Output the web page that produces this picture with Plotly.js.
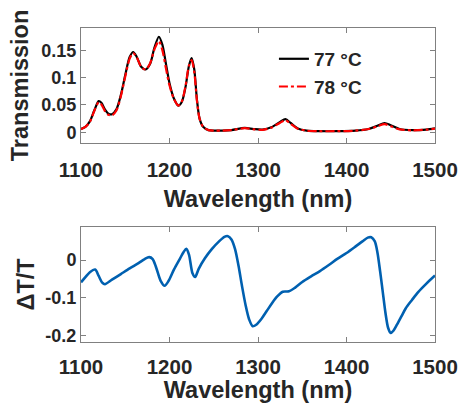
<!DOCTYPE html>
<html><head><meta charset="utf-8">
<script src="https://cdn.plot.ly/plotly-3.0.1.min.js"></script>
<style>html,body{margin:0;padding:0;background:#fff}#plot{width:461px;height:403px}</style>
</head><body><div id="plot"></div>
<script>
// Top panel: transmission spectra
const wlT = [1100,1105,1110,1115,1120,1123,1127,1131,1135,1140,1145,1150,1155,1159,1163,1168,1173,1178,1183,1188,1192,1196,1200,1205,1210,1214,1218,1222,1225,1228,1231,1234,1238,1244,1250,1260,1270,1285,1295,1305,1315,1325,1331,1337,1345,1355,1370,1390,1410,1425,1435,1443,1450,1460,1475,1490,1500];
const t77 = [0.006,0.010,0.020,0.040,0.057,0.054,0.042,0.034,0.033,0.042,0.068,0.105,0.138,0.147,0.138,0.120,0.115,0.125,0.155,0.175,0.160,0.125,0.090,0.062,0.049,0.056,0.082,0.122,0.136,0.115,0.060,0.025,0.010,0.004,0.003,0.003,0.004,0.008,0.006,0.005,0.009,0.019,0.024,0.017,0.007,0.003,0.002,0.002,0.003,0.006,0.012,0.017,0.013,0.006,0.004,0.005,0.007];
const t78 = [0.0056,0.0097,0.019,0.039,0.055,0.051,0.039,0.032,0.031,0.040,0.066,0.102,0.135,0.145,0.137,0.120,0.115,0.126,0.152,0.167,0.150,0.117,0.086,0.061,0.049,0.057,0.084,0.122,0.132,0.110,0.058,0.025,0.010,0.004,0.003,0.003,0.004,0.0075,0.0055,0.0045,0.0085,0.0175,0.022,0.0155,0.0065,0.003,0.002,0.002,0.003,0.006,0.011,0.0148,0.011,0.0052,0.0036,0.0047,0.0067];
const legendNames = ['77 °C','78 °C'];
// Bottom panel: relative change
const wlD = [1100,1105,1110,1116,1120,1124,1127,1135,1145,1155,1165,1172,1177,1181,1185,1190,1194.5,1199,1205,1212,1216,1219,1222,1226,1229,1233,1240,1248,1256,1262,1266,1270,1274,1278,1282,1286,1290,1294,1298,1304,1310,1316,1322,1328,1335,1342,1350,1360,1370,1380,1390,1400,1410,1418,1424,1428,1432,1435,1438,1441,1444,1447,1450,1453,1457,1462,1467,1474,1481,1490,1500];
const dTT = [-0.059,-0.045,-0.032,-0.025,-0.042,-0.060,-0.064,-0.052,-0.037,-0.022,-0.008,0.003,0.008,0.003,-0.020,-0.055,-0.068,-0.055,-0.025,0.005,0.022,0.030,0.015,-0.035,-0.045,-0.023,0.005,0.030,0.050,0.062,0.064,0.055,0.030,-0.015,-0.070,-0.120,-0.158,-0.176,-0.172,-0.156,-0.135,-0.114,-0.096,-0.084,-0.083,-0.073,-0.058,-0.043,-0.029,-0.013,0.004,0.019,0.036,0.050,0.060,0.061,0.050,0.020,-0.030,-0.085,-0.140,-0.180,-0.194,-0.188,-0.172,-0.150,-0.128,-0.106,-0.085,-0.063,-0.041];
const xTicks = [1100,1200,1300,1400,1500];
const yTopTicks = [0,0.05,0.1,0.15];
const yBotTicks = [-0.2,-0.1,0];

const FONT = 'Arial, "Liberation Sans", sans-serif';
const tickFontX = {family: FONT, size: 20.5, color: '#262626', weight: 'bold'};
const tickFontY = {family: FONT, size: 18, color: '#262626', weight: 'bold'};
const titleFont = {family: FONT, size: 23.5, color: '#262626', weight: 'bold'};
const axisCommon = {showline: true, linecolor: '#808080', linewidth: 1, mirror: 'ticks', ticks: 'inside', ticklen: 5, tickcolor: '#808080', showgrid: false, zeroline: false, automargin: false};

const traces = [
  {x: wlT, y: t77, name: legendNames[0], type: 'scatter', mode: 'lines', line: {color: '#000000', width: 2.2, shape: 'spline', smoothing: 0.8}, xaxis: 'x', yaxis: 'y'},
  {x: wlT, y: t78, name: legendNames[1], type: 'scatter', mode: 'lines', line: {color: '#ff0000', width: 2.2, dash: 'dashdot', shape: 'spline', smoothing: 0.8}, xaxis: 'x', yaxis: 'y'},
  {x: wlD, y: dTT, type: 'scatter', mode: 'lines', showlegend: false, line: {color: '#0060B0', width: 2.6, shape: 'spline', smoothing: 0.8}, xaxis: 'x2', yaxis: 'y2'}
];

const layout = {
  width: 461, height: 403,
  margin: {l: 81, r: 26, t: 28, b: 61},
  paper_bgcolor: '#fff', plot_bgcolor: '#fff',
  showlegend: true,
  legend: {x: 0.545, y: 0.962, xanchor: 'left', yanchor: 'top', bgcolor: 'rgba(0,0,0,0)', font: {family: FONT, size: 19, color: '#262626', weight: 'bold'}, tracegroupgap: 0},
  xaxis: Object.assign({}, axisCommon, {domain: [0, 1], anchor: 'y', range: [1100, 1500], tickvals: xTicks, tickfont: tickFontX, ticklabelstandoff: 8, title: {text: 'Wavelength (nm)', font: titleFont, standoff: 11}}),
  yaxis: Object.assign({}, axisCommon, {domain: [0.634, 1], anchor: 'x', range: [-0.0195, 0.191], tickvals: yTopTicks, ticktext: ['0','0.05','0.1','0.15'], tickfont: tickFontY, title: {text: 'Transmission', font: titleFont, standoff: 6}}),
  xaxis2: Object.assign({}, axisCommon, {domain: [0, 1], anchor: 'y2', range: [1100, 1500], tickvals: xTicks, tickfont: tickFontX, ticklabelstandoff: 6, title: {text: 'Wavelength (nm)', font: titleFont, standoff: 10}}),
  yaxis2: Object.assign({}, axisCommon, {domain: [0, 0.367], anchor: 'x2', range: [-0.218, 0.089], tickvals: yBotTicks, ticktext: ['-0.2','-0.1','0'], tickfont: tickFontY, title: {text: 'ΔT/T', font: titleFont, standoff: 4}})
};

Plotly.newPlot('plot', traces, layout, {displayModeBar: false, staticPlot: true});
</script></body></html>
